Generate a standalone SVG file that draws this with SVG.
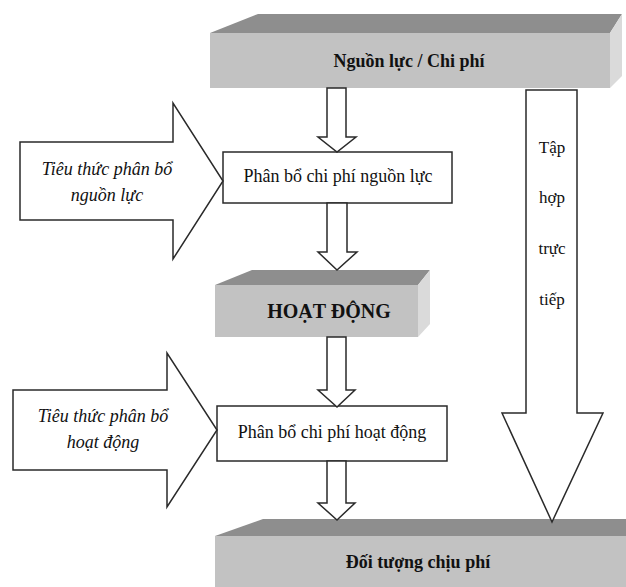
<svg xmlns="http://www.w3.org/2000/svg" width="626" height="587" viewBox="0 0 626 587">
<style>
.front{fill:#c2c2c2}
.topf{fill:#8e8e8e}
.side{fill:#dadada}
.box{fill:#fff;stroke:#2a2a2a;stroke-width:1.5}
.arr{fill:#fff;stroke:#2a2a2a;stroke-width:1.5;stroke-linejoin:miter}
.t{font-family:"Liberation Serif","Times New Roman",serif;fill:#111;text-anchor:middle}
.b{font-weight:bold}
.i{font-style:italic}
</style>
<rect width="626" height="587" fill="#fff"/>
<g id="node-resources">
<polygon class="topf" points="210,33 258,14 622,14 610,33"/>
<polygon class="side" points="610,33 622,14 622,76 610,88"/>
<rect class="front" x="210" y="33" width="400" height="55"/>
<text class="t b" x="409" y="67" font-size="18">Nguồn lực / Chi phí</text>
</g>
<g id="node-alloc-resources">
<rect class="box" x="223" y="152" width="229" height="51"/>
<text class="t" x="338" y="182" font-size="18">Phân bổ chi phí nguồn lực</text>
</g>
<g id="node-activity">
<polygon class="topf" points="215,285 252,270 430,270 418,285"/>
<polygon class="side" points="418,285 430,270 430,324 418,337"/>
<rect class="front" x="215" y="285" width="203" height="52"/>
<text class="t b" x="329" y="318" font-size="20">HOẠT ĐỘNG</text>
</g>
<g id="node-alloc-activity">
<rect class="box" x="217" y="406" width="230" height="55"/>
<text class="t" x="332" y="438" font-size="18">Phân bổ chi phí hoạt động</text>
</g>
<g id="node-cost-object">
<polygon class="topf" points="215,536 263,519 626,519 626,536"/>
<rect class="front" x="215" y="536" width="411" height="51"/>
<text class="t b" x="418" y="568" font-size="18">Đối tượng chịu phí</text>
</g>
<g id="node-criteria-resources">
<polygon class="arr" points="20,142 173,142 173,103 223,181 173,259 173,220 20,220"/>
<text class="t i" x="107" y="175" font-size="18">Tiêu thức phân bổ</text>
<text class="t i" x="107" y="201" font-size="18">nguồn lực</text>
</g>
<g id="node-criteria-activity">
<polygon class="arr" points="13,390 167,390 167,353 217,430 167,507 167,470 13,470"/>
<text class="t i" x="103" y="422" font-size="18">Tiêu thức phân bổ</text>
<text class="t i" x="103" y="448" font-size="18">hoạt động</text>
</g>
<g id="node-direct">
<polygon class="arr" points="526,90 577,90 577,413 603,413 552,522 502,413 526,413"/>
<text class="t" x="552" y="153" font-size="17">Tập</text>
<text class="t" x="552" y="203" font-size="17">hợp</text>
<text class="t" x="552" y="254" font-size="17">trực</text>
<text class="t" x="552" y="305" font-size="17">tiếp</text>
</g>
<g id="connectors">
<polygon class="arr" points="327,88 346,88 346,137 356,137 337,152 318,137 327,137"/>
<polygon class="arr" points="327,203 347,203 347,252 357,252 337,270 318,252 327,252"/>
<polygon class="arr" points="327,337 346,337 346,390 355,390 337,407 318,390 327,390"/>
<polygon class="arr" points="327,461 346,461 346,503 355,503 337,520 318,503 327,503"/>
</g>
</svg>
